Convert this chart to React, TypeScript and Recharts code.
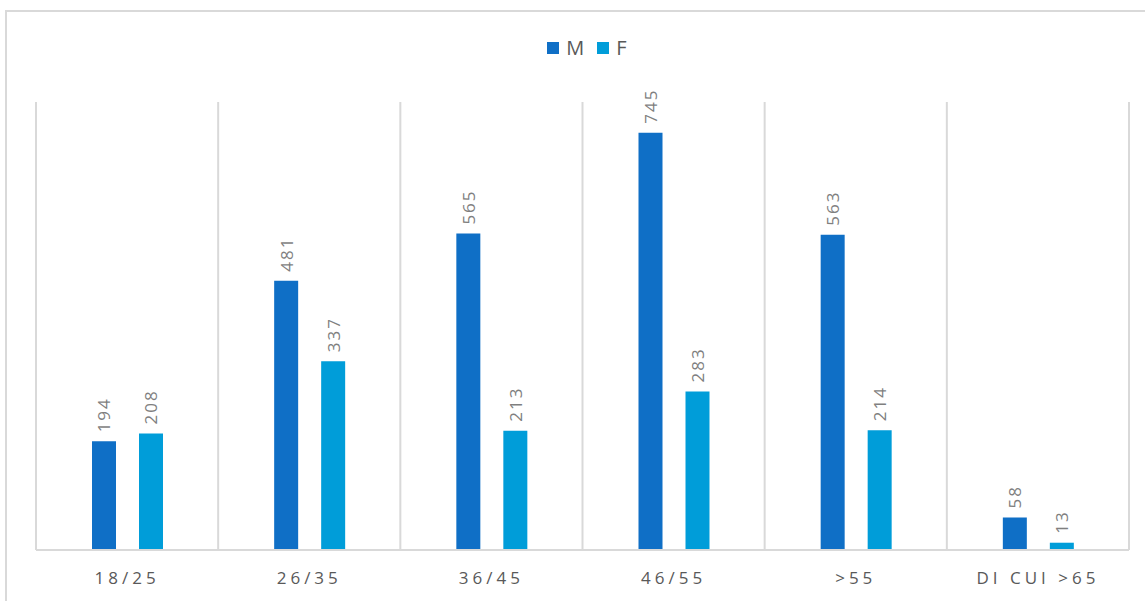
import React from "react";
import { BarChart, Bar, XAxis, YAxis, CartesianGrid, LabelList } from "recharts";

const categories = ["18/25", "26/35", "36/45", "46/55", ">55", "DI CUI >65"];
const maleValues = [194, 481, 565, 745, 563, 58];
const femaleValues = [208, 337, 213, 283, 214, 13];

const M_COLOR = "#0F6FC6";
const F_COLOR = "#009DD9";
const FONT = "'Open Sans', 'Noto Sans', sans-serif";

const data = categories.map((name, i) => ({ name, M: maleValues[i], F: femaleValues[i] }));

const VerticalLabel = (props: any) => {
  const { x, y, width, value } = props;
  const cx = x + width / 2;
  const cy = y - 9;
  return (
    <text
      x={cx}
      y={cy}
      transform={`rotate(-90 ${cx} ${cy})`}
      textAnchor="start"
      dominantBaseline="central"
      fill="#7f7f7f"
      fontSize={17}
      letterSpacing={2}
      fontFamily={FONT}
    >
      {value}
    </text>
  );
};

export default function App() {
  return (
    <div style={{ position: "absolute", left: 0, top: 0, width: 1145, height: 601, background: "#fff", overflow: "hidden", fontFamily: FONT }}>
      <div style={{ position: "absolute", left: 5, top: 10, width: 1200, height: 700, border: "2px solid #d9d9d9" }} />
      <div style={{ position: "absolute", top: 34, left: 0, width: 1174, display: "flex", justifyContent: "center", alignItems: "center", fontSize: 20, color: "#595959" }}>
        <span style={{ width: 12, height: 12, background: M_COLOR, display: "inline-block", marginRight: 7 }} />
        <span style={{ marginRight: 13 }}>M</span>
        <span style={{ width: 12, height: 12, background: F_COLOR, display: "inline-block", marginRight: 7 }} />
        <span>F</span>
      </div>
      <div style={{ position: "absolute", left: 0, top: 0 }}>
        <BarChart
          width={1145}
          height={601}
          data={data}
          margin={{ top: 102, right: 16, left: 36, bottom: 0 }}
          barCategoryGap={55}
          barGap={23}
        >
          <CartesianGrid
            horizontal={false}
            stroke="#d9d9d9"
            strokeWidth={2}
            verticalCoordinatesGenerator={({ offset }: any) =>
              categories.map((_, i) => offset.left + (i * offset.width) / categories.length).concat(offset.left + offset.width)
            }
          />
          <XAxis
            dataKey="name"
            height={51}
            axisLine={{ stroke: "#d9d9d9", strokeWidth: 2 }}
            tickLine={false}
            tick={{ fill: "#595959", fontSize: 17, letterSpacing: 4, fontFamily: FONT }}
            dy={14}
          />
          <YAxis hide domain={[0, 800]} />
          <Bar dataKey="M" fill={M_COLOR} barSize={24} isAnimationActive={false}>
            <LabelList dataKey="M" content={VerticalLabel} />
          </Bar>
          <Bar dataKey="F" fill={F_COLOR} barSize={24} isAnimationActive={false}>
            <LabelList dataKey="F" content={VerticalLabel} />
          </Bar>
        </BarChart>
      </div>
    </div>
  );
}
